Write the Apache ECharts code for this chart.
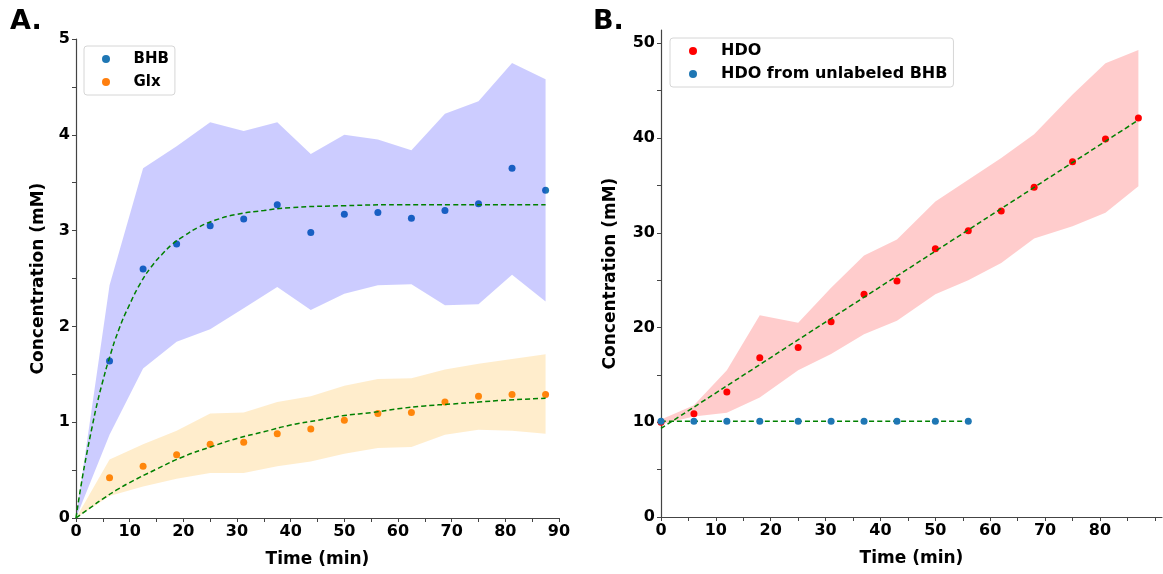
<!DOCTYPE html>
<html>
<head>
<meta charset="utf-8">
<script src="https://cdn.jsdelivr.net/npm/echarts@6/dist/echarts.min.js"></script>
<style>
  html, body { margin: 0; padding: 0; background: #fff; }
  #main { width: 1163px; height: 574px; }
</style>
</head>
<body>
<div id="main"></div>
<script>
var myChart = echarts.init(document.getElementById('main'));

// panel A: sampling times (min)
var timesA = [6.25, 12.5, 18.75, 25, 31.25, 37.5, 43.75, 50, 56.25, 62.5, 68.75, 75, 81.25, 87.5];
var bhb = [1.64, 2.60, 2.86, 3.05, 3.12, 3.27, 2.98, 3.17, 3.19, 3.13, 3.21, 3.28, 3.65, 3.42];
var glx = [0.42, 0.54, 0.66, 0.77, 0.79, 0.88, 0.93, 1.02, 1.09, 1.10, 1.21, 1.27, 1.29, 1.29];

// shaded ranges, starting at t = 0
var bandTimesA = [0].concat(timesA);
var bhbUpper = [0, 2.43, 3.65, 3.88, 4.13, 4.04, 4.13, 3.80, 4.00, 3.95, 3.84, 4.22, 4.35, 4.75, 4.58];
var bhbLower = [0, 0.87, 1.56, 1.84, 1.97, 2.19, 2.41, 2.17, 2.34, 2.43, 2.44, 2.22, 2.23, 2.54, 2.26];
var glxUpper = [0, 0.61, 0.77, 0.91, 1.09, 1.10, 1.21, 1.27, 1.38, 1.45, 1.46, 1.55, 1.61, 1.66, 1.71];
var glxLower = [0, 0.23, 0.33, 0.41, 0.47, 0.47, 0.54, 0.59, 0.67, 0.73, 0.74, 0.87, 0.92, 0.91, 0.88];

// fitted curves
var bhbFitT = [0, 1, 2, 3, 4, 5, 6, 8, 10, 12, 14, 16, 18, 20, 23, 26, 30, 35, 40, 50, 60, 70, 80, 87.5];
var bhbFitY = [0, 0.36, 0.67, 0.95, 1.21, 1.43, 1.63, 1.97, 2.23, 2.45, 2.62, 2.75, 2.86, 2.94, 3.04, 3.11, 3.17, 3.21, 3.24, 3.26, 3.27, 3.27, 3.27, 3.27];
var glxFitT = [0, 2.5, 5, 7.5, 10, 15, 20, 25, 30, 35, 40, 45, 50, 55, 60, 65, 70, 75, 80, 87.5];
var glxFitY = [0, 0.10, 0.20, 0.29, 0.37, 0.51, 0.64, 0.74, 0.83, 0.90, 0.97, 1.02, 1.07, 1.10, 1.14, 1.17, 1.19, 1.21, 1.23, 1.25];

// panel B
var timesB = [0, 6, 12, 18, 25, 31, 37, 43, 50, 56, 62, 68, 75, 81, 87];
var hdo = [10.0, 10.9, 13.2, 16.8, 17.9, 20.6, 23.5, 24.9, 28.3, 30.2, 32.3, 34.8, 37.5, 39.9, 42.1];
var hdoUpper = [10.3, 11.8, 15.5, 21.3, 20.5, 24.2, 27.6, 29.3, 33.3, 35.6, 37.9, 40.4, 44.6, 47.9, 49.3];
var hdoLower = [9.8, 10.6, 11.0, 12.6, 15.5, 17.2, 19.3, 20.7, 23.5, 25.0, 26.8, 29.4, 30.7, 32.1, 34.9];
var unlabT = [0, 6, 12, 18, 25, 31, 37, 43, 50, 56];
var unlab = [10.1, 10.1, 10.1, 10.1, 10.1, 10.1, 10.1, 10.1, 10.1, 10.1];
var hdoFitT = [0, 87];
var hdoFitY = [9.35, 41.9];
var unlabFitT = [0, 56];
var unlabFitY = [10.1, 10.1];

// ticks
var xTicksA = [0, 5, 10, 15, 20, 25, 30, 35, 40, 45, 50, 55, 60, 65, 70, 75, 80, 85, 90];
var xLabelsA = [0, 10, 20, 30, 40, 50, 60, 70, 80, 90];
var yTicksA = [0, 0.5, 1, 1.5, 2, 2.5, 3, 3.5, 4, 4.5, 5];
var yLabelsA = [0, 1, 2, 3, 4, 5];
var xTicksB = [0, 5, 10, 15, 20, 25, 30, 35, 40, 45, 50, 55, 60, 65, 70, 75, 80, 85, 90];
var xLabelsB = [0, 10, 20, 30, 40, 50, 60, 70, 80];
var yTicksB = [0, 5, 10, 15, 20, 25, 30, 35, 40, 45, 50];
var yLabelsB = [0, 10, 20, 30, 40, 50];

var FONT = 'DejaVu Sans';
var AXIS_COLOR = '#444';

function zip(xs, ys) {
    return xs.map(function (x, i) { return [x, ys[i]]; });
}

function makeAxis(opts) {
    return Object.assign({
        type: 'value',
        nameLocation: 'middle',
        nameTextStyle: { fontFamily: FONT, fontWeight: 'bold', fontSize: 17, color: '#000' },
        splitLine: { show: false },
        axisLine: { show: true, onZero: false, lineStyle: { color: AXIS_COLOR, width: 1.2 } },
        axisTick: { show: true, inside: false, length: 4, lineStyle: { color: AXIS_COLOR, width: 1 }, customValues: opts.ticks },
        axisLabel: { fontFamily: FONT, fontWeight: 'bold', fontSize: 16, color: '#000', margin: 6, customValues: opts.labels }
    }, opts.extra);
}

function band(gridIdx, times, lo, hi, color) {
    return {
        type: 'custom',
        xAxisIndex: gridIdx,
        yAxisIndex: gridIdx,
        silent: true,
        z: 2,
        data: [[times[0], lo[0]]],
        renderItem: function (params, api) {
            var pts = [];
            for (var i = 0; i < times.length; i++) pts.push(api.coord([times[i], hi[i]]));
            for (var j = times.length - 1; j >= 0; j--) pts.push(api.coord([times[j], lo[j]]));
            return { type: 'polygon', shape: { points: pts }, style: { fill: color } };
        }
    };
}

function dots(gridIdx, name, xs, ys, color) {
    return {
        type: 'scatter', name: name, xAxisIndex: gridIdx, yAxisIndex: gridIdx,
        data: zip(xs, ys), symbolSize: 7, z: 1,
        itemStyle: { color: color, opacity: 1 }
    };
}

function fit(gridIdx, xs, ys) {
    return {
        type: 'line', xAxisIndex: gridIdx, yAxisIndex: gridIdx,
        data: zip(xs, ys), smooth: true, showSymbol: false, z: 3, silent: true,
        lineStyle: { color: '#008000', width: 1.5, type: [5, 3] }
    };
}

function legend(left, top, names, fontSize, padLeft, itemWidth) {
    return {
        left: left, top: top, orient: 'vertical',
        data: names,
        icon: 'circle', itemWidth: itemWidth, itemHeight: 8, itemGap: 5,
        padding: [4, 6, 4, padLeft],
        borderColor: '#d6d6d6', borderWidth: 1, borderRadius: 3,
        backgroundColor: '#fff',
        selectedMode: false,
        textStyle: { fontFamily: FONT, fontWeight: 'bold', fontSize: fontSize, color: '#000', lineHeight: 18, padding: [0, 0, 0, 10] }
    };
}

var option = {
    backgroundColor: '#fff',
    animation: false,
    grid: [
        { left: 76, right: 604, top: 39, bottom: 56 },
        { left: 661, right: 1, top: 30, bottom: 57 }
    ],
    xAxis: [
        makeAxis({ ticks: xTicksA, labels: xLabelsA, extra: { gridIndex: 0, min: 0, max: 90, name: 'Time (min)', nameGap: 33 } }),
        makeAxis({ ticks: xTicksB, labels: xLabelsB, extra: { gridIndex: 1, min: 0, max: 91.3, name: 'Time (min)', nameGap: 33 } })
    ],
    yAxis: [
        makeAxis({ ticks: yTicksA, labels: yLabelsA, extra: { gridIndex: 0, min: 0, max: 5, name: 'Concentration (mM)', nameGap: 29 } }),
        makeAxis({ ticks: yTicksB, labels: yLabelsB, extra: { gridIndex: 1, min: 0, max: 51.4, name: 'Concentration (mM)', nameGap: 42 } })
    ],
    legend: [
        legend(84, 46, ['BHB', 'Glx'], 15, 18, 25),
        legend(670, 38, ['HDO', 'HDO from unlabeled BHB'], 16, 19, 26)
    ],
    graphic: [
        { type: 'text', left: 10, top: 8, style: { text: 'A.', fontFamily: FONT, fontWeight: 'bold', fontSize: 27, fill: '#000' } },
        { type: 'text', left: 593, top: 8, style: { text: 'B.', fontFamily: FONT, fontWeight: 'bold', fontSize: 27, fill: '#000' } }
    ],
    series: [
        dots(0, 'BHB', timesA, bhb, '#1f77b4'),
        dots(0, 'Glx', timesA, glx, '#ff7f0e'),
        band(0, bandTimesA, bhbLower, bhbUpper, 'rgba(0,0,255,0.2)'),
        band(0, bandTimesA, glxLower, glxUpper, 'rgba(255,165,0,0.2)'),
        fit(0, bhbFitT, bhbFitY),
        fit(0, glxFitT, glxFitY),

        dots(1, 'HDO', timesB, hdo, '#ff0000'),
        band(1, timesB, hdoLower, hdoUpper, 'rgba(255,0,0,0.2)'),
        fit(1, hdoFitT, hdoFitY),
        fit(1, unlabFitT, unlabFitY),
        Object.assign(dots(1, 'HDO from unlabeled BHB', unlabT, unlab, '#1f77b4'), { z: 4 })
    ]
};

myChart.setOption(option);
</script>
</body>
</html>
